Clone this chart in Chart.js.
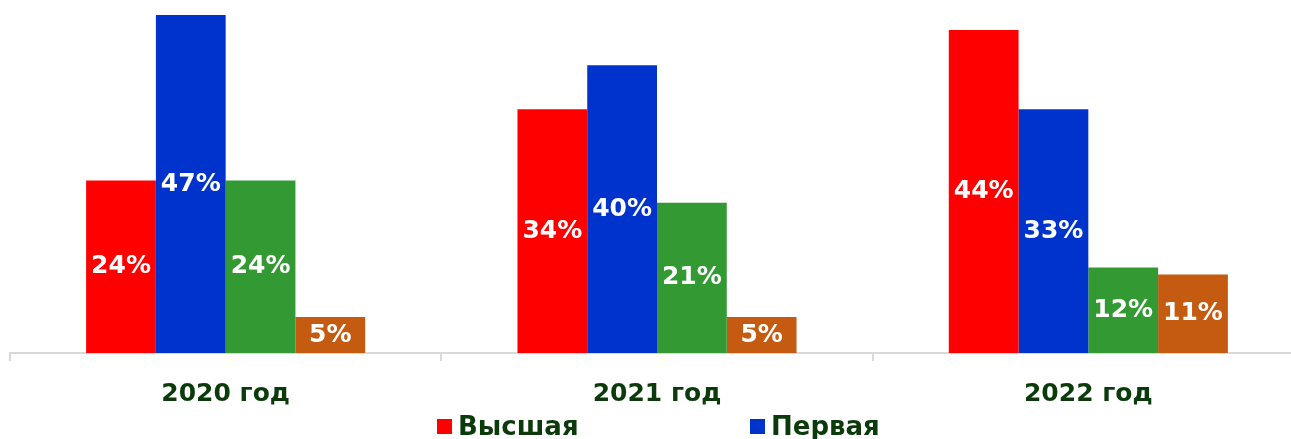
<!DOCTYPE html>
<html lang="ru">
  <head>
    <meta charset="UTF-8" />
    <title>Квалификационные категории</title>
    <style>
      html, body { margin: 0; padding: 0; background: #fff; overflow: hidden; }
      .wrap { position: relative; width: 1304px; height: 439px; }
      .legend {
        position: absolute; top: 411px; left: 0;
        font-family: "DejaVu Sans", sans-serif; font-weight: bold;
        font-size: 26px; color: #0b3b0b;
      }
      .legend span { position: absolute; white-space: nowrap; line-height: 30px; }
      .legend i { display: inline-block; width: 15px; height: 15px; margin-right: 6px; vertical-align: 1px; }
    </style>
    <script src="https://cdn.jsdelivr.net/npm/chart.js"></script>
  </head>
  <body>
    <div class="wrap">
      <canvas id="chart" width="1304" height="439"></canvas>
      <div class="legend" id="legend"></div>
    </div>
    <script>
      const years = ["2020 год", "2021 год", "2022 год"];
      const seriesNames = ["Высшая", "Первая", "Вторая", "Без категории"];
      const colors = ["#ff0000", "#0033cc", "#339933", "#c55a11"];

      // heights, labels as printed on them
      const vysshaya = [24, 33.9, 44.9];
      const pervaya = [47, 40, 33.9];
      const vtoraya = [24, 20.9, 11.9];
      const bez = [5, 5, 10.9];
      const vysshayaText = ["24%", "34%", "44%"];
      const pervayaText = ["47%", "40%", "33%"];
      const vtorayaText = ["24%", "21%", "12%"];
      const bezText = ["5%", "5%", "11%"];

      const values = [vysshaya, pervaya, vtoraya, bez];
      const texts = [vysshayaText, pervayaText, vtorayaText, bezText];

      const labelFont = "bold 25px 'DejaVu Sans'";

      const barLabels = {
        id: "barLabels",
        afterDatasetsDraw(chart) {
          const ctx = chart.ctx;
          ctx.save();
          ctx.font = labelFont;
          ctx.fillStyle = "#ffffff";
          ctx.textAlign = "center";
          ctx.textBaseline = "middle";
          chart.data.datasets.forEach((ds, i) => {
            chart.getDatasetMeta(i).data.forEach((bar, j) => {
              const y = (bar.y + bar.base) / 2;
              ctx.fillText(texts[i][j], bar.x, y);
            });
          });
          ctx.restore();
        },
      };

      new Chart(document.getElementById("chart").getContext("2d"), {
        type: "bar",
        data: {
          labels: years,
          datasets: values.map((v, i) => ({
            label: seriesNames[i],
            data: v,
            backgroundColor: colors[i],
            barPercentage: 1,
            categoryPercentage: 0.647,
          })),
        },
        options: {
          responsive: false,
          animation: false,
          layout: { padding: { top: 15, left: 10, right: 0, bottom: 12 } },
          plugins: { legend: { display: false }, tooltip: { enabled: false } },
          scales: {
            x: {
              grid: {
                display: true,
                drawOnChartArea: false,
                tickLength: 8,
                color: "#d9d9d9",
                lineWidth: 2,
              },
              border: { display: true, color: "#d9d9d9", width: 2 },
              ticks: {
                padding: 18,
                color: "#0b3b0b",
                font: { family: "DejaVu Sans", size: 25, weight: "bold" },
              },
            },
            y: { display: false, min: 0, max: 47 },
          },
        },
        plugins: [barLabels],
      });

      // only the first two legend entries fit in the picture
      const legend = document.getElementById("legend");
      const legendX = [437, 750];
      legendX.forEach((x, i) => {
        const s = document.createElement("span");
        s.style.left = x + "px";
        s.innerHTML = '<i style="background:' + colors[i] + '"></i>' + seriesNames[i];
        legend.appendChild(s);
      });
    </script>
  </body>
</html>
